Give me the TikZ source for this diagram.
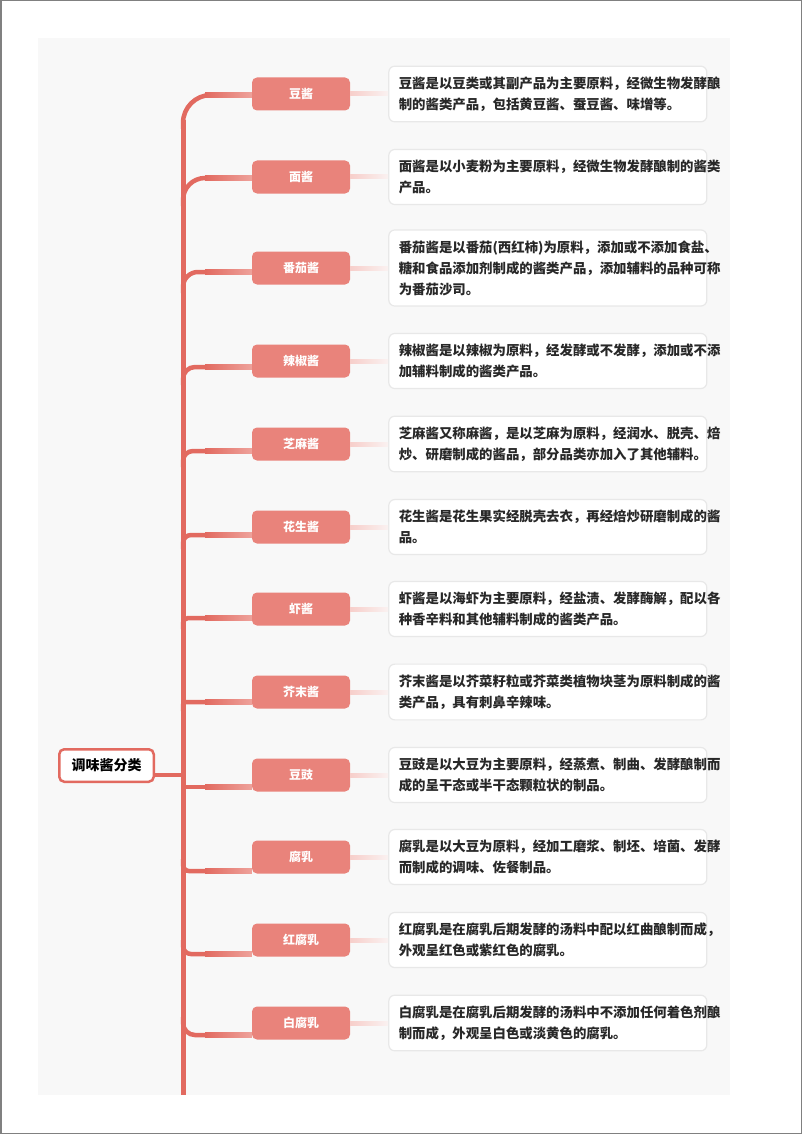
\documentclass[tikz,border=0pt]{standalone}
\usepackage{fontspec}
\setmainfont{Noto Sans CJK SC}
\usetikzlibrary{positioning}
\definecolor{trunkc}{RGB}{226,106,96}
\definecolor{pillc}{RGB}{233,131,123}
\definecolor{branchend}{RGB}{238,162,155}
\definecolor{linkc}{RGB}{247,206,202}
\definecolor{linkend}{RGB}{250,242,241}
\definecolor{panelc}{RGB}{248,248,248}
\definecolor{boxc}{RGB}{232,232,232}
\definecolor{textc}{RGB}{40,40,40}
\tikzset{
	pill/.style={fill=pillc, rounded corners=5pt, minimum width=98pt, minimum height=33pt,
		inner sep=0pt, text=white, font=\fontsize{12}{14}\selectfont\bfseries},
	desc/.style={fill=white, draw=boxc, line width=1.2pt, rounded corners=6pt,
		text width=298pt, align=left, inner xsep=10pt, inner ysep=10.5pt,
		text=textc, font=\fontsize{13.4}{21}\selectfont\bfseries},
	rootbox/.style={fill=white, draw=trunkc, line width=2.5pt, rounded corners=5pt,
		minimum width=94.5pt, minimum height=32.5pt, inner sep=0pt,
		font=\fontsize{14}{16}\selectfont\bfseries},
	branch/.style={draw=trunkc, line width=4.5pt},
}
\begin{document}
\begin{tikzpicture}[x=1pt, y=-1pt]
	\useasboundingbox (0,0) rectangle (802,1134);
	%page and panel
	\draw[gray, line width=1.5pt] (0.75,0.75) rectangle (801.25,1133.25);
	\fill[panelc] (38,38) rectangle (730,1095);
	%trunk
	\draw[branch, line width=5pt] (183,1095) -- (183,120);
	%root
	\node[rootbox] (root) at (106.5,765.5) {调味酱分类};
	\coordinate (rj) at (183,775);
	\draw[branch] (root.east |- rj) -- (rj);
	%branches
	\foreach \i/\yc/\yb/\r/\s/\lab/\txt in {
		1/94/95/28/1/豆酱/{豆酱是以豆类或其副产品为主要原料，经微生物发酵酿\\制的酱类产品，包括黄豆酱、蚕豆酱、味增等。},
		2/177/178/22/1/面酱/{面酱是以小麦粉为主要原料，经微生物发酵酿制的酱类\\产品。},
		3/268/272/15/1/番茄酱/{番茄酱是以番茄(西红柿)为原料，添加或不添加食盐、\\糖和食品添加剂制成的酱类产品，添加辅料的品种可称\\为番茄沙司。},
		4/361/367/12/1/辣椒酱/{辣椒酱是以辣椒为原料，经发酵或不发酵，添加或不添\\加辅料制成的酱类产品。},
		5/444/451/10/1/芝麻酱/{芝麻酱又称麻酱，是以芝麻为原料，经润水、脱壳、焙\\炒、研磨制成的酱品，部分品类亦加入了其他辅料。},
		6/527/535/8/1/花生酱/{花生酱是花生果实经脱壳去衣，再经焙炒研磨制成的酱\\品。},
		7/609/618/5/1/虾酱/{虾酱是以海虾为主要原料，经盐渍、发酵酶解，配以各\\种香辛料和其他辅料制成的酱类产品。},
		8/692/702/3/1/芥末酱/{芥末酱是以芥菜籽粒或芥菜类植物块茎为原料制成的酱\\类产品，具有刺鼻辛辣味。},
		9/775/787/0/1/豆豉/{豆豉是以大豆为主要原料，经蒸煮、制曲、发酵酿制而\\成的呈干态或半干态颗粒状的制品。},
		10/857/871/6/-1/腐乳/{腐乳是以大豆为原料，经加工磨浆、制坯、培菌、发酵\\而制成的调味、佐餐制品。},
		11/940/954/8/-1/红腐乳/{红腐乳是在腐乳后期发酵的汤料中配以红曲酿制而成，\\外观呈红色或紫红色的腐乳。},
		12/1023/1035/12/-1/白腐乳/{白腐乳是在腐乳后期发酵的汤料中不添加任何着色剂酿\\制而成，外观呈白色或淡黄色的腐乳。}}
	{
		\node[pill] (p\i) at (301,\yc) {\lab};
		\node[desc, right=38pt of p\i] (d\i) {\txt};
		\coordinate (t\i) at (183,\yb+\s*\r+\s*6);
		\coordinate (b\i) at (206,\yb);
		\draw[branch, rounded corners=\r pt] (t\i) |- (b\i);
		\fill[left color=trunkc, right color=branchend] (205,\yb-2.25) rectangle (p\i.west |- 0,\yb+2.25);
		\fill[left color=linkc, right color=linkend] (p\i.east |- 0,\yc-2) rectangle (d\i.west |- 0,\yc+2);
	}
\end{tikzpicture}
\end{document}
